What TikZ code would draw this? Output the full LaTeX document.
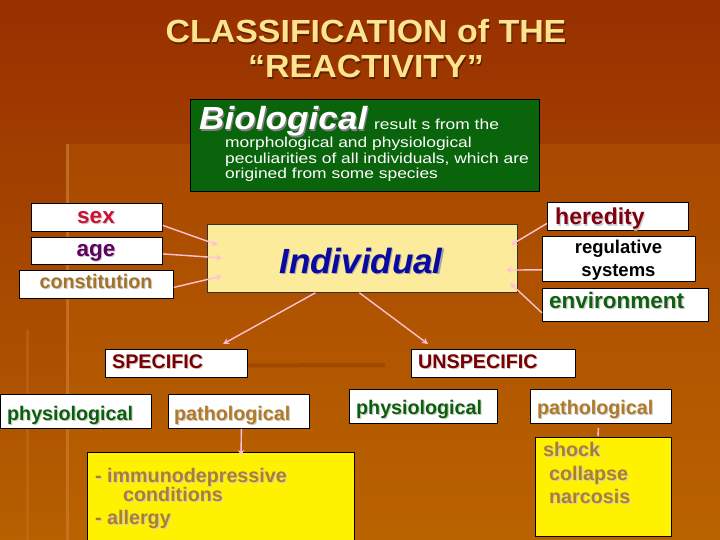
\documentclass[tikz,border=0pt]{standalone}
\usepackage{fontspec}
\setmainfont{Liberation Sans}
\usetikzlibrary{arrows.meta,calc}
\definecolor{bgtop}{HTML}{983000}
\definecolor{bgbot}{HTML}{B66000}
\definecolor{panel}{HTML}{C46C00}
\definecolor{panelline}{HTML}{CC7A30}
\definecolor{titlec}{HTML}{FFE48F}
\definecolor{titlesh}{HTML}{5E2000}
\definecolor{greenbox}{HTML}{0A640C}
\definecolor{indfill}{HTML}{FDEB9C}
\definecolor{indtext}{HTML}{0A0AA0}
\definecolor{pinkc}{HTML}{FFC0D8}
\definecolor{sexc}{HTML}{CC1133}
\definecolor{agec}{HTML}{600060}
\definecolor{constc}{HTML}{A47228}
\definecolor{heredc}{HTML}{800010}
\definecolor{envc}{HTML}{106010}
\definecolor{specc}{HTML}{7A0000}
\definecolor{physc}{HTML}{0B5E0B}
\definecolor{pathc}{HTML}{B07A28}
\definecolor{yelc}{HTML}{AD7F27}
\definecolor{darkline}{HTML}{A04800}
\newcommand{\fsz}[1]{\fontsize{#1}{#1}\selectfont}
\newcommand{\wide}[2]{\scalebox{#1}[1]{#2}}
% shadowed text: name, position, style, colour, shadow colour, text
\newcommand{\stxt}[6]{%
  \node[#3, text=#5] (#1s) at ($#2+(1.1,1.1)$) {#6};
  \node[#3, text=#4] (#1) at #2 {#6};}
\begin{document}
\begin{tikzpicture}[x=1pt,y=-1pt,
  box/.style={draw=black, line width=0.8pt, fill=white, anchor=north west, inner sep=0pt},
  ybox/.style={draw=black, line width=0.8pt, fill=yellow, anchor=north west, inner sep=0pt},
  conn/.style={draw=pinkc, line width=1.4pt, -{Stealth[length=6pt,width=6pt]}},
  plain/.style={draw=pinkc, line width=1.4pt},
  tl/.style={anchor=base west, inner sep=0pt, font=\bfseries\fsz{19.7}},
  tc/.style={anchor=base, inner sep=0pt, font=\bfseries\fsz{19.7}},
  gt/.style={anchor=base west, inner sep=0pt, text=white, font=\fsz{14.5}},
]
\clip (0,0) rectangle (720,540);
% background
\shade[top color=bgtop, bottom color=bgbot] (0,0) rectangle (720,540);
\fill[panel, opacity=0.25] (67,144) rectangle (720,540);
\draw[panelline, line width=3pt, opacity=0.7] (67,144) -- (67,540);
\draw[panelline, line width=3pt, opacity=0.35] (27,330) -- (27,540);

% title
\stxt{t1}{(366,43)}{anchor=base, inner sep=0pt, font=\bfseries\fsz{32}}{titlec}{titlesh}{\wide{1.06}{CLASSIFICATION of THE}}
\stxt{t2}{(366,78)}{anchor=base, inner sep=0pt, font=\bfseries\fsz{32}}{titlec}{titlesh}{\wide{1.06}{“REACTIVITY”}}

% biological box
\node[draw=black, line width=0.8pt, fill=greenbox, anchor=north west, minimum width=349, minimum height=92] (bio) at (190,99) {};
\stxt{biot}{(199,130)}{anchor=base west, inner sep=0pt, font=\bfseries\itshape\fsz{32}}{white}{black!50}{\wide{1.1}{Biological}}
\node[gt] (bio1) at (374,130) {\wide{1.2}{result s from the}};
\node[gt] (bio2) at (225,148) {\wide{1.2}{morphological and physiological}};
\node[gt] (bio3) at (225,164) {\wide{1.2}{peculiarities of all individuals, which are}};
\node[gt] (bio4) at (225,179) {\wide{1.2}{origined from some species}};

% left factor boxes
\node[box, minimum width=131, minimum height=28] (sex) at (31,203) {};
\node[box, minimum width=131, minimum height=27] (age) at (31,237) {};
\node[box, minimum width=154, minimum height=28] (con) at (19,270) {};
\stxt{sext}{(96,223)}{tc, font=\bfseries\fsz{22.5}}{sexc}{black!20}{sex}
\stxt{aget}{(96,256)}{tc, font=\bfseries\fsz{22.5}}{agec}{black!20}{age}
\stxt{cont}{(96,288)}{tc}{constc}{black!20}{constitution}

% individual
\node[draw=black!80, line width=0.8pt, fill=indfill, anchor=north west, minimum width=310, minimum height=68] (ind) at (207,224) {};
\stxt{indt}{(361,273)}{anchor=base, inner sep=0pt, font=\bfseries\itshape\fsz{35}}{indtext}{black!35}{Individual}

% right factor boxes
\node[box, minimum width=141, minimum height=28] (her) at (547,202) {};
\node[box, minimum width=153, minimum height=45] (reg) at (542,236) {};
\node[box, minimum width=166, minimum height=33] (env) at (542,288) {};
\stxt{hert}{(555,225)}{tl, font=\bfseries\fsz{23}}{heredc}{black!20}{heredity}
\node[tc, font=\bfseries\fsz{18.5}] (reg1) at (618.5,254) {regulative};
\node[tc, font=\bfseries\fsz{18.5}] (reg2) at (618.5,276) {systems};
\stxt{envt}{(549,308)}{tl, font=\bfseries\fsz{22.5}}{envc}{black!20}{environment}

% connectors into individual
\coordinate (in1) at (218,245);
\coordinate (in2) at (222,258);
\coordinate (in3) at (222,276);
\coordinate (in4) at (511,245);
\coordinate (in5) at (506,270);
\coordinate (in6) at (510,283);
\draw[conn] ([yshift=-8pt]sex.east) -- (in1);
\draw[conn] ([yshift=-3pt]age.east) -- (in2);
\draw[conn] ([yshift=-3pt]con.east) -- (in3);
\draw[conn] ([yshift=-7pt]her.west) -- (in4);
\draw[conn] ([yshift=-11pt]reg.west) -- (in5);
\draw[conn] ([yshift=-8pt]env.west) -- (in6);

% specific / unspecific
\node[box, minimum width=142, minimum height=28] (spec) at (105,349) {};
\node[box, minimum width=164, minimum height=28] (unsp) at (411,349) {};
\stxt{spect}{(112,368)}{tl}{specc}{black!20}{SPECIFIC}
\stxt{unspt}{(418,368)}{tl}{specc}{black!20}{UNSPECIFIC}
\coordinate (sl) at (385,365);
\draw[darkline, line width=4pt] ([yshift=-2pt]spec.east) -- (sl);
\coordinate (a1) at (223,344);
\coordinate (a2) at (428,344);
\draw[conn] ([xshift=-47pt]ind.south) -- (a1);
\draw[conn] ([xshift=-3pt]ind.south) -- (a2);

% sub boxes
\node[box, minimum width=151, minimum height=34] (ph1) at (0,394) {};
\node[box, minimum width=141, minimum height=34] (pa1) at (168,394) {};
\node[box, minimum width=148, minimum height=34] (ph2) at (349,389) {};
\node[box, minimum width=141, minimum height=34] (pa2) at (530,389) {};
\stxt{ph1t}{(7,420)}{tl}{physc}{black!20}{physiological}
\stxt{pa1t}{(174,420)}{tl}{pathc}{black!20}{pathological}
\stxt{ph2t}{(356,414)}{tl}{physc}{black!20}{physiological}
\stxt{pa2t}{(537,414)}{tl}{pathc}{black!20}{pathological}

% yellow boxes
\node[ybox, minimum width=267, minimum height=100] (y1) at (87,452) {};
\node[ybox, minimum width=136, minimum height=99] (y2) at (535,437) {};
\stxt{y1a}{(95,482)}{tl}{yelc}{black!20}{- immunodepressive}
\stxt{y1b}{(123,501)}{tl}{yelc}{black!20}{conditions}
\stxt{y1c}{(95,524)}{tl}{yelc}{black!20}{- allergy}
\stxt{y2a}{(543,456)}{tl}{yelc}{black!20}{shock}
\stxt{y2b}{(549,480)}{tl}{yelc}{black!20}{collapse}
\stxt{y2c}{(549,503)}{tl}{yelc}{black!20}{narcosis}

\coordinate (d1) at (241,456);
\draw[conn] ([xshift=2.5pt]pa1.south) -- (d1);
\coordinate (d2) at (598,436);
\draw[plain] ([xshift=-2.5pt,yshift=-4pt]pa2.south) -- (d2);
\end{tikzpicture}
\end{document}
